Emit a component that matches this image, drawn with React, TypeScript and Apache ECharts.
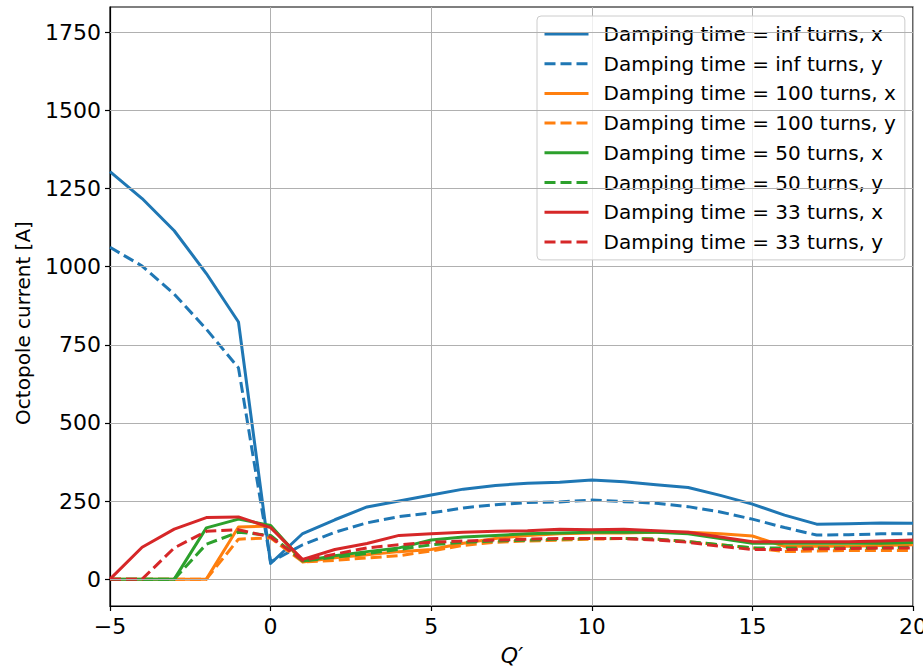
import React, { useEffect, useRef } from "react";
import * as echarts from "echarts";

const qValues = [-5, -4, -3, -2, -1, 0, 1, 2, 3, 4, 5, 6, 7, 8, 9, 10, 11, 12, 13, 14, 15, 16, 17, 18, 19, 20];

const infX = [1304, 1218, 1115, 978, 823, 50, 146, 190, 231, 250, 269, 288, 300, 307, 310, 317, 312, 302, 293, 268, 240, 205, 176, 177, 180, 179];
const infY = [1062, 1002, 912, 800, 676, 55, 110, 150, 180, 200, 212, 228, 238, 245, 247, 253, 248, 243, 232, 215, 192, 165, 141, 142, 145, 145];
const t100X = [0, 0, 0, 0, 167, 170, 55, 68, 78, 88, 95, 115, 130, 140, 145, 148, 148, 150, 150, 145, 138, 105, 105, 105, 108, 110];
const t100Y = [0, 0, 0, 0, 128, 132, 55, 60, 68, 75, 90, 108, 118, 122, 125, 128, 130, 128, 120, 110, 100, 88, 90, 92, 92, 92];
const t50X = [0, 0, 0, 164, 192, 172, 58, 75, 88, 100, 125, 135, 140, 145, 148, 150, 150, 150, 145, 130, 115, 115, 115, 115, 115, 117];
const t50Y = [0, 0, 0, 112, 150, 140, 58, 70, 82, 95, 110, 118, 122, 125, 128, 130, 130, 128, 120, 110, 100, 100, 100, 100, 100, 102];
const t33X = [0, 102, 160, 197, 199, 165, 63, 95, 114, 140, 145, 150, 153, 155, 160, 158, 160, 155, 150, 135, 120, 120, 120, 120, 122, 125];
const t33Y = [0, 0, 100, 153, 158, 135, 60, 80, 100, 110, 118, 122, 125, 128, 130, 130, 130, 125, 118, 105, 95, 95, 97, 98, 100, 100];

const yTicks = [0, 250, 500, 750, 1000, 1250, 1500, 1750];

const seriesDefs = [
  { name: "Damping time = inf turns, x", values: infX, color: "#1f77b4", dashed: false },
  { name: "Damping time = inf turns, y", values: infY, color: "#1f77b4", dashed: true },
  { name: "Damping time = 100 turns, x", values: t100X, color: "#ff7f0e", dashed: false },
  { name: "Damping time = 100 turns, y", values: t100Y, color: "#ff7f0e", dashed: true },
  { name: "Damping time = 50 turns, x", values: t50X, color: "#2ca02c", dashed: false },
  { name: "Damping time = 50 turns, y", values: t50Y, color: "#2ca02c", dashed: true },
  { name: "Damping time = 33 turns, x", values: t33X, color: "#d62728", dashed: false },
  { name: "Damping time = 33 turns, y", values: t33Y, color: "#d62728", dashed: true },
];

const FONT = "DejaVu Sans";

export default function App() {
  const ref = useRef<HTMLDivElement>(null);
  useEffect(() => {
    if (!ref.current) return;
    const chart = echarts.init(ref.current, undefined, { renderer: "svg", width: 923, height: 670 });
    const series: any[] = [
      {
        type: "line",
        name: "__grid",
        data: [],
        z: 1,
        silent: true,
        markLine: {
          silent: true,
          symbol: ["none", "none"],
          label: { show: false },
          lineStyle: { color: "#b0b0b0", width: 1, type: "solid" },
          data: yTicks.map((v) => ({ yAxis: v })),
        },
      },
      ...seriesDefs.map((s) => ({
        type: "line",
        name: s.name,
        data: qValues.map((q, i) => [q, s.values[i]]),
        symbol: "none",
        showSymbol: false,
        z: 3,
        lineStyle: {
          color: s.color,
          width: 3,
          type: s.dashed ? [11, 5] : "solid",
          cap: "butt",
          join: "round",
        },
        itemStyle: { color: s.color },
      })),
    ];
    chart.setOption({
      animation: false,
      grid: {
        left: 110,
        right: 10,
        top: 7,
        bottom: 64,
        outerBoundsMode: "none",
        containLabel: false,
        show: true,
        borderColor: "#000",
        borderWidth: 1.2,
        backgroundColor: "#fff",
      },
      xAxis: {
        type: "value",
        min: -5,
        max: 20,
        interval: 5,
        axisLine: { show: true, onZero: false, lineStyle: { color: "#000", width: 1.2 } },
        axisTick: { show: true, length: 5, lineStyle: { color: "#000", width: 1.2 } },
        axisLabel: {
          fontSize: 22,
          color: "#000",
          fontFamily: FONT,
          margin: 9,
          hideOverlap: false,
          formatter: (v: number) => String(v).replace("-", "\u2212"),
        },
        splitLine: { show: true, lineStyle: { color: "#b0b0b0", width: 1 } },
      },
      yAxis: {
        type: "value",
        min: -86,
        max: 1831,
        axisLine: { show: true, onZero: false, lineStyle: { color: "#000", width: 1.2 } },
        axisTick: { show: true, length: 5, customValues: yTicks, lineStyle: { color: "#000", width: 1.2 } },
        axisLabel: {
          fontSize: 22,
          color: "#000",
          fontFamily: FONT,
          margin: 9,
          customValues: yTicks,
          formatter: (v: number) => String(v),
        },
        splitLine: { show: false },
      },
      legend: {
        orient: "vertical",
        left: 537,
        top: 16,
        padding: [8, 9, 8, 6],
        itemWidth: 44,
        itemHeight: 14,
        itemGap: 9.7,
        backgroundColor: "rgba(255,255,255,0.8)",
        borderColor: "#cccccc",
        borderWidth: 1,
        borderRadius: 4,
        itemStyle: { opacity: 0 },
        lineStyle: { width: 3 },
        textStyle: { fontSize: 20, color: "#000", fontFamily: FONT, padding: [0, 0, 0, 10] },
        data: seriesDefs.map((s) => s.name),
      },
      graphic: [
        {
          type: "text",
          x: 23,
          y: 323,
          rotation: Math.PI / 2,
          style: {
            text: "Octopole current [A]",
            fontSize: 20,
            fontFamily: FONT,
            fill: "#000",
            align: "center",
            verticalAlign: "middle",
          },
        },
        {
          type: "text",
          x: 512,
          y: 655,
          style: {
            text: "Q\u2032",
            fontSize: 22,
            fontFamily: FONT,
            fontStyle: "italic",
            fill: "#000",
            align: "center",
            verticalAlign: "middle",
          },
        },
      ],
      series,
    });
    return () => chart.dispose();
  }, []);
  return (
    <div
      ref={ref}
      style={{ position: "absolute", left: 0, top: 0, width: 923, height: 670, background: "#fff" }}
    />
  );
}
